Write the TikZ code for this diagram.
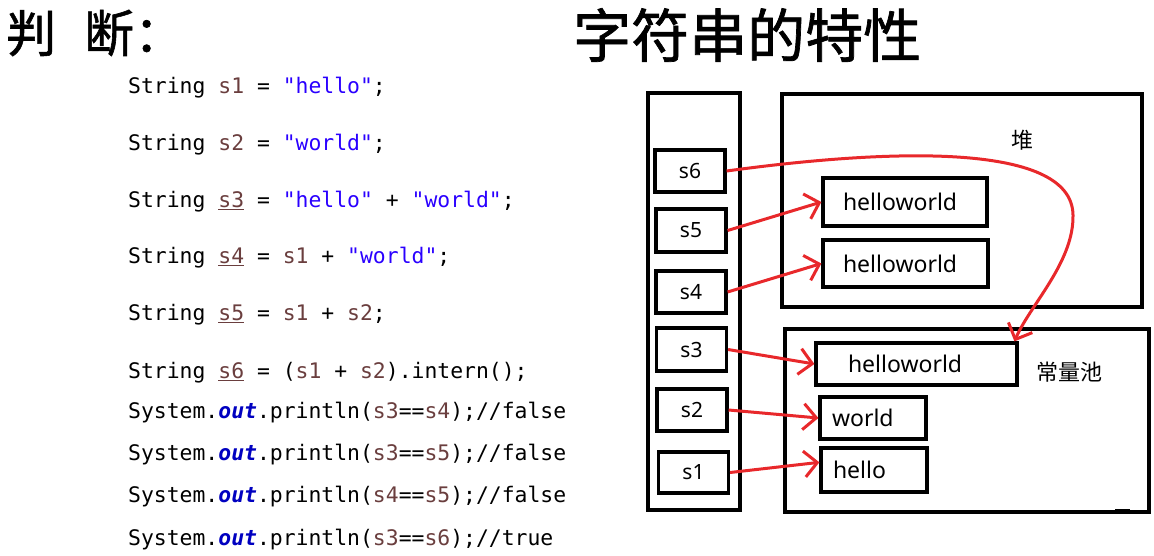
\documentclass[tikz,border=0pt]{standalone}
\usepackage{fontspec}
\setmonofont{DejaVu Sans Mono}
\setsansfont{Noto Sans}
\newfontfamily\cjk{Noto Sans CJK SC}
\newfontfamily\cjktitle[FakeBold=1.2]{Noto Sans CJK SC}
\usetikzlibrary{arrows.meta}

\definecolor{javavar}{HTML}{6A3E3E}
\definecolor{javastr}{HTML}{2A00FF}
\definecolor{javafield}{HTML}{0000C0}
\definecolor{refred}{HTML}{E8282B}

\newcommand{\jv}[1]{\textcolor{javavar}{#1}}
\newcommand{\jvu}[1]{\textcolor{javavar}{\underline{#1}}}
\newcommand{\js}[1]{\textcolor{javastr}{#1}}
\newcommand{\jout}{\textcolor{javafield}{\textbf{\textit{out}}}}

\begin{document}
\begin{tikzpicture}[x=1pt, y=-1pt,
  codeline/.style={anchor=base west, inner sep=0pt, font=\ttfamily\fontsize{21.4}{24}\selectfont},
  region/.style={draw, line width=3.2pt, inner sep=0pt},
  refcell/.style={draw, line width=3.2pt, inner sep=0pt, minimum width=70pt, minimum height=42pt, font=\sffamily\fontsize{21}{24}\selectfont},
  valcell/.style={draw, line width=3.2pt, inner ysep=0pt, minimum height=44pt, align=left, font=\sffamily\fontsize{23}{26}\selectfont},
  cjklabel/.style={inner sep=0pt, font=\cjk\fontsize{22}{24}\selectfont},
  refarrow/.style={draw=refred, line width=3pt, -{Straight Barb[length=13pt, width=26pt]}}]
  \useasboundingbox (0,0) rectangle (1154,555);
  % titles
  \node[anchor=west, inner sep=0pt, font=\cjktitle\fontsize{50}{56}\selectfont] (judge) at (6,33) {判\hspace{0.56em}断：};
  \node[anchor=west, inner sep=0pt, font=\cjktitle\fontsize{58}{64}\selectfont] (topic) at (573,35) {字符串的特性};
  % code
  \node[codeline] (code1) at (128,93) {String \jv{s1} = \js{"hello"};};
  \node[codeline] (code2) at (128,150) {String \jv{s2} = \js{"world"};};
  \node[codeline] (code3) at (128,207) {String \jvu{s3} = \js{"hello"} + \js{"world"};};
  \node[codeline] (code4) at (128,263) {String \jvu{s4} = \jv{s1} + \js{"world"};};
  \node[codeline] (code5) at (128,320) {String \jvu{s5} = \jv{s1} + \jv{s2};};
  \node[codeline] (code6) at (128,378) {String \jvu{s6} = (\jv{s1} + \jv{s2}).intern();};
  \node[codeline] (code7) at (128,418) {System.\jout.println(\jv{s3}==\jv{s4});//false};
  \node[codeline] (code8) at (128,460) {System.\jout.println(\jv{s3}==\jv{s5});//false};
  \node[codeline] (code9) at (128,502) {System.\jout.println(\jv{s4}==\jv{s5});//false};
  \node[codeline] (code10) at (128,545) {System.\jout.println(\jv{s3}==\jv{s6});//true};
  % memory
  \node[region, minimum width=92pt, minimum height=417pt] (stack) at (694,301.5) {};
  \node[region, minimum width=360pt, minimum height=213pt] (heap) at (962,200.5) {};
  \node[region, minimum width=364pt, minimum height=183pt] (pool) at (967,420.5) {};
  \fill (1115,509) rectangle (1130,514);
  \node[cjklabel] (heaplabel) at (1022,140) {堆};
  \node[cjklabel] (poollabel) at (1069,372) {常量池};
  \node[refcell] (s6) at (690,171) {s6};
  \node[refcell, minimum height=43pt] (s5) at (691,230.5) {s5};
  \node[refcell] (s4) at (691,292) {s4};
  \node[refcell, minimum height=43pt] (s3) at (691.5,349.5) {s3};
  \node[refcell] (s2) at (692,410) {s2};
  \node[refcell, minimum height=41pt] (s1) at (693.5,472.5) {s1};
  \node[valcell, inner xsep=20pt, text width=124pt, minimum height=48pt] (heaphw1) at (905,202) {helloworld};
  \node[valcell, inner xsep=20pt, text width=125pt, minimum height=47pt] (heaphw2) at (905.5,263.5) {helloworld};
  \node[valcell, inner xsep=32pt, text width=137pt, minimum height=42pt] (poolhw) at (916.5,364) {helloworld};
  \node[valcell, inner xsep=12pt, text width=82pt, minimum height=42pt] (world) at (873,418) {world};
  \node[valcell, inner xsep=12pt, text width=82pt] (hello) at (874,470) {hello};
  % references
  \draw[refarrow] (s5.east) -- (heaphw1.west);
  \draw[refarrow] (s4.east) -- (heaphw2.west);
  \draw[refarrow] (s3.east) -- (poolhw.west);
  \draw[refarrow] (s2.east) -- (world.west);
  \draw[refarrow] (s1.east) -- (hello.172);
  \draw[refarrow] (s6.east) .. controls (880,150) and (1072,140) .. (1073,215)
    .. controls (1074,262) and (1030,305) .. (poolhw.13);
\end{tikzpicture}
\end{document}
